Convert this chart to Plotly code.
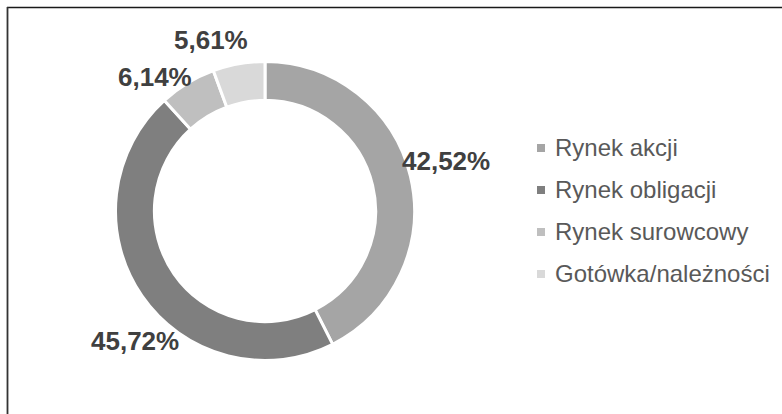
import plotly.graph_objects as go

# ---- data ----
categories = ["Rynek akcji", "Rynek obligacji", "Rynek surowcowy", "Gotówka/należności"]
values = [42.52, 45.72, 6.14, 5.61]
colors = ["#a5a5a5", "#7f7f7f", "#bfbfbf", "#d9d9d9"]

# label placement (pixel centres, style only)
label_pos = [(446, 161), (135, 341), (155, 77), (211, 40)]

W, H = 782, 414
FONT = "Liberation Sans, Arial, sans-serif"

def px(x):
    return x / W

def py(y):
    return 1 - y / H

cx, cy, R = 265, 211, 149.5

fig = go.Figure()
fig.add_trace(go.Pie(
    labels=categories,
    values=values,
    sort=False,
    direction="clockwise",
    rotation=0,
    hole=0.74,
    marker=dict(colors=colors, line=dict(color="white", width=3)),
    textinfo="none",
    showlegend=False,
    domain=dict(x=[px(cx - R), px(cx + R)], y=[py(cy + R), py(cy - R)]),
))

annotations = []
for v, (lx, ly) in zip(values, label_pos):
    annotations.append(dict(
        x=px(lx), y=py(ly), xref="paper", yref="paper",
        text="<b>" + f"{v:.2f}".replace(".", ",") + "%</b>",
        showarrow=False, xanchor="center", yanchor="middle",
        font=dict(family=FONT, size=26, color="#404040"),
    ))

shapes = []
leg_y0, leg_dy = 148, 42
for i, (name, col) in enumerate(zip(categories, colors)):
    yc = leg_y0 + i * leg_dy
    shapes.append(dict(
        type="rect", xref="paper", yref="paper",
        x0=px(537), x1=px(545), y0=py(yc + 4), y1=py(yc - 4),
        fillcolor=col, line=dict(width=0),
    ))
    annotations.append(dict(
        x=px(553), y=py(yc - 1), xref="paper", yref="paper",
        text=name, showarrow=False, xanchor="left", yanchor="middle",
        font=dict(family=FONT, size=24, color="#595959"),
    ))

# chart border (top and left visible)
shapes.append(dict(type="line", xref="paper", yref="paper",
                   x0=px(7), x1=1, y0=py(7.5), y1=py(7.5),
                   line=dict(color="#1a1a1a", width=1.5)))
shapes.append(dict(type="line", xref="paper", yref="paper",
                   x0=px(7.5), x1=px(7.5), y0=py(7), y1=0,
                   line=dict(color="#333333", width=1.8)))

fig.update_layout(
    width=W, height=H,
    margin=dict(l=0, r=0, t=0, b=0),
    paper_bgcolor="white", plot_bgcolor="white",
    annotations=annotations, shapes=shapes,
    font=dict(family=FONT),
)

fig.write_html("out.html")
